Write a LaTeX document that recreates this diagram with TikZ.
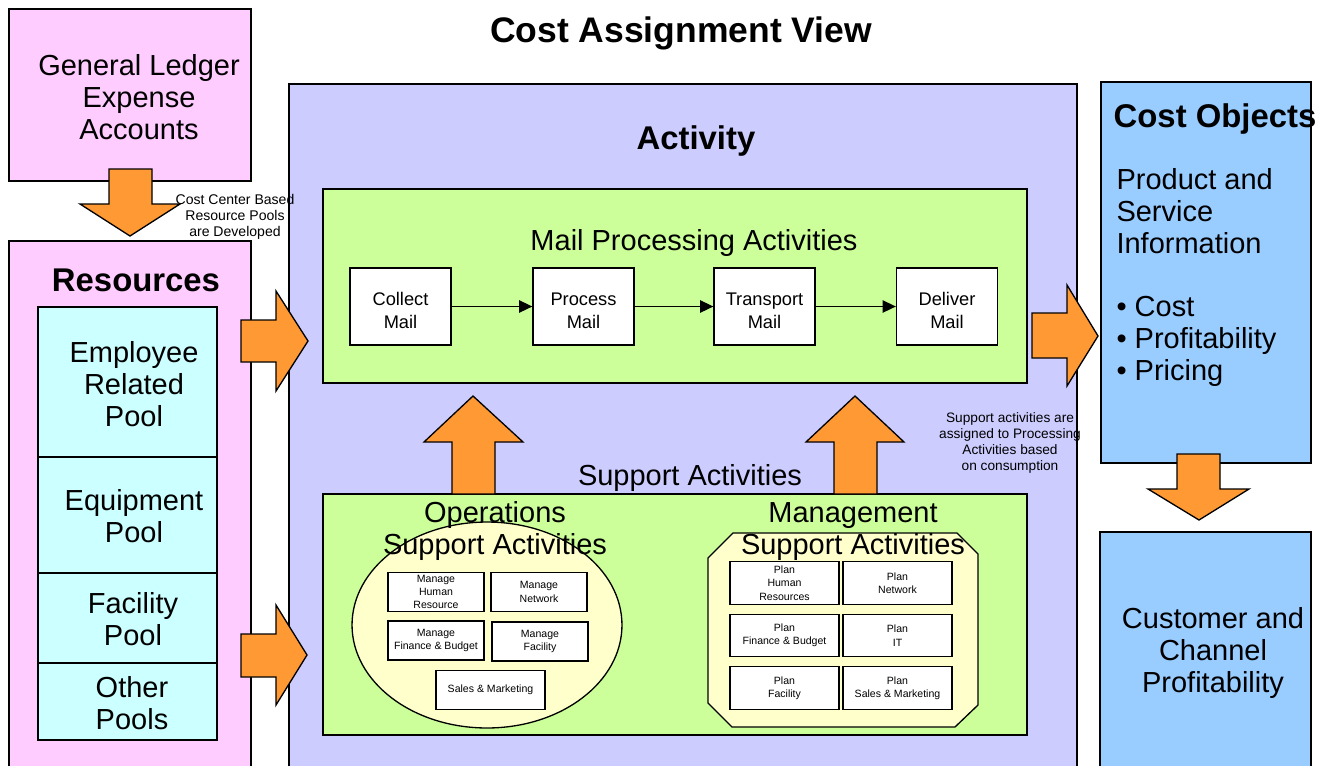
\documentclass[tikz,border=0pt]{standalone}
\usepackage{fontspec}
\setmainfont{Liberation Sans}
\usetikzlibrary{positioning, fit, arrows.meta, shapes.geometric}
\definecolor{ledgerpink}{HTML}{FFCCFF}
\definecolor{poolcyan}{HTML}{CCFFFF}
\definecolor{activitylav}{HTML}{CCCCFF}
\definecolor{mailgreen}{HTML}{CCFF99}
\definecolor{planyellow}{HTML}{FFFFCC}
\definecolor{objectblue}{HTML}{99CCFF}
\definecolor{arroworange}{HTML}{FF9933}
\tikzset{every picture/.style={line width=0.75pt}}

\begin{document}
\begin{tikzpicture}[x=0.02cm, y=-0.02cm, align=center,
        box/.style={draw, inner sep=0pt},
        head/.style={font=\bfseries\fontsize{18.7}{20}\selectfont},
        big/.style={font=\fontsize{16.5}{18.2}\selectfont},
        note/.style={font=\fontsize{7.8}{9}\selectfont},
        mailbox/.style={draw, fill=white, minimum width=2.02cm, minimum height=1.54cm, text height=25pt, font=\fontsize{10.4}{13}\selectfont},
        taskbox/.style={draw, fill=white, inner sep=0pt, minimum width=1.92cm, minimum height=0.78cm, font=\fontsize{6}{7.6}\selectfont},
        planbox/.style={taskbox, minimum width=2.18cm, minimum height=0.85cm},
        blockarrow/.style={draw, fill=arroworange, line join=miter}]
        \useasboundingbox (0,0) rectangle (1328,765);

        \node[font=\bfseries\fontsize{20.2}{22}\selectfont] (title) at (681,33) {Cost Assignment View};

        % resources side
        \node[box, fill=ledgerpink, fit={(9,9) (251,181)}] (ledger) {};
        \node[big] (ledgertext) at (139,97) {General Ledger\\Expense\\Accounts};
        \node[box, fill=ledgerpink, fit={(9,241) (251,790)}] (resources) {};
        \node[head] (resourcestitle) at (136,280) {Resources};
        \node[box, fill=poolcyan, fit={(38,307) (217,457)}] (employee) {};
        \node[box, fill=poolcyan, fit={(38,457) (217,573)}] (equipment) {};
        \node[box, fill=poolcyan, fit={(38,573) (217,663)}] (facility) {};
        \node[box, fill=poolcyan, fit={(38,663) (217,740)}] (other) {};
        \node[big] (employeetext) at (134,384) {Employee\\Related\\Pool};
        \node[big] (equipmenttext) at (134,516.5) {Equipment\\Pool};
        \node[big] (facilitytext) at (133,619.5) {Facility\\Pool};
        \node[big] (othertext) at (132,703) {Other\\Pools};

        % activity
        \node[box, fill=activitylav, fit={(289,84) (1077,790)}] (activity) {};
        \node[head] (activitytitle) at (696,141) {Activity};
        \node[box, fill=mailgreen, fit={(323,189) (1027,383)}] (mailarea) {};
        \node[big] (mailtitle) at (694,243) {Mail Processing Activities};
        \node[mailbox] (collect) at (400.5,306.5) {Collect\\Mail};
        \node[mailbox] (process) at (583.5,306.5) {Process\\Mail};
        \node[mailbox] (transport) at (764.5,306.5) {Transport\\Mail};
        \node[mailbox] (deliver) at (947,306.5) {Deliver\\Mail};
        \draw[-{Triangle[length=7.5pt,width=7pt]}]
            (collect) edge (process)
            (process) edge (transport)
            (transport) edge (deliver);

        \node[big] (supporttitle) at (690,478) {Support Activities};
        \node[box, fill=mailgreen, fit={(323,494) (1027,735)}] (supportarea) {};
        \node[draw, ellipse, fill=planyellow, minimum width=5.4cm, minimum height=4.12cm] (opsarea) at (487,625) {};
        \draw[fill=planyellow] (733,533) -- (957,533) -- (978,554) -- (978,705) -- (955,727)
            -- (732,727) -- (708,703) -- (708,558) -- cycle;
        \node[big] (opstitle) at (495,531) {Operations\\Support Activities};
        \node[big] (mgmttitle) at (853,532) {Management\\Support Activities};

        \node[taskbox] (managehr) at (436,592) {Manage\\Human\\Resource};
        \node[taskbox] (managenet) at (539,592) {Manage\\Network};
        \node[taskbox] (managefin) at (436,640.5) {Manage\\Finance \& Budget};
        \node[taskbox] (managefac) at (540,641.5) {Manage\\Facility};
        \node[taskbox, minimum width=2.18cm] (sales) at (490.5,690) {Sales \& Marketing};

        \node[planbox] (planhr) at (784.5,583) {Plan\\Human\\Resources};
        \node[planbox] (plannet) at (897.5,583) {Plan\\Network};
        \node[planbox] (planfin) at (784.5,635.5) {Plan\\Finance \& Budget};
        \node[planbox] (planit) at (897.5,635.5) {Plan\\IT};
        \node[planbox] (planfac) at (784.5,688) {Plan\\Facility};
        \node[planbox] (plansales) at (897.5,688) {Plan\\Sales \& Marketing};

        % cost objects
        \node[box, fill=objectblue, fit={(1101,82) (1311,463)}] (objects) {};
        \node[head] (objectstitle) at (1215,119) {Cost Objects};
        \node[big, align=left, anchor=west] (objectstext) at (1110,277.5)
            {Product and\\Service\\Information\\[18.2pt]\textbullet{} Cost\\\textbullet{} Profitability\\\textbullet{} Pricing};
        \node[box, fill=objectblue, fit={(1100,532) (1311,790)}] (customer) {};
        \node[big] (customertext) at (1213,653) {Customer and\\Channel\\Profitability};

        % notes
        \node[note, font=\fontsize{8}{9}\selectfont] (poolnote) at (235,217) {Cost Center Based\\Resource Pools\\are Developed};
        \node[note] (supportnote) at (1010,443) {Support activities are\\assigned to Processing\\Activities based\\on consumption};

        % block arrows
        \draw[blockarrow] (109,169) -- (152,169) -- (152,204) -- (180,204) -- (130,236) -- (80,204) -- (109,204) -- cycle;
        \draw[blockarrow] (241,320) -- (276,320) -- (276,291) -- (308,341) -- (276,391) -- (276,362) -- (241,362) -- cycle;
        \draw[blockarrow] (241,634) -- (276,634) -- (276,605) -- (307,655) -- (276,705) -- (276,677) -- (241,677) -- cycle;
        \draw[blockarrow] (1032,313) -- (1067,313) -- (1067,285) -- (1098,336) -- (1067,386) -- (1067,358) -- (1032,358) -- cycle;
        \draw[blockarrow] (452,494) -- (452,442) -- (424,442) -- (473,396) -- (523,442) -- (495,442) -- (495,494) -- cycle;
        \draw[blockarrow] (834,494) -- (834,442) -- (806,442) -- (855,396) -- (904,442) -- (877,442) -- (877,494) -- cycle;
        \draw[blockarrow] (1177,454) -- (1220,454) -- (1220,489) -- (1249,489) -- (1199,520) -- (1148,489) -- (1177,489) -- cycle;
    \end{tikzpicture}
\end{document}
